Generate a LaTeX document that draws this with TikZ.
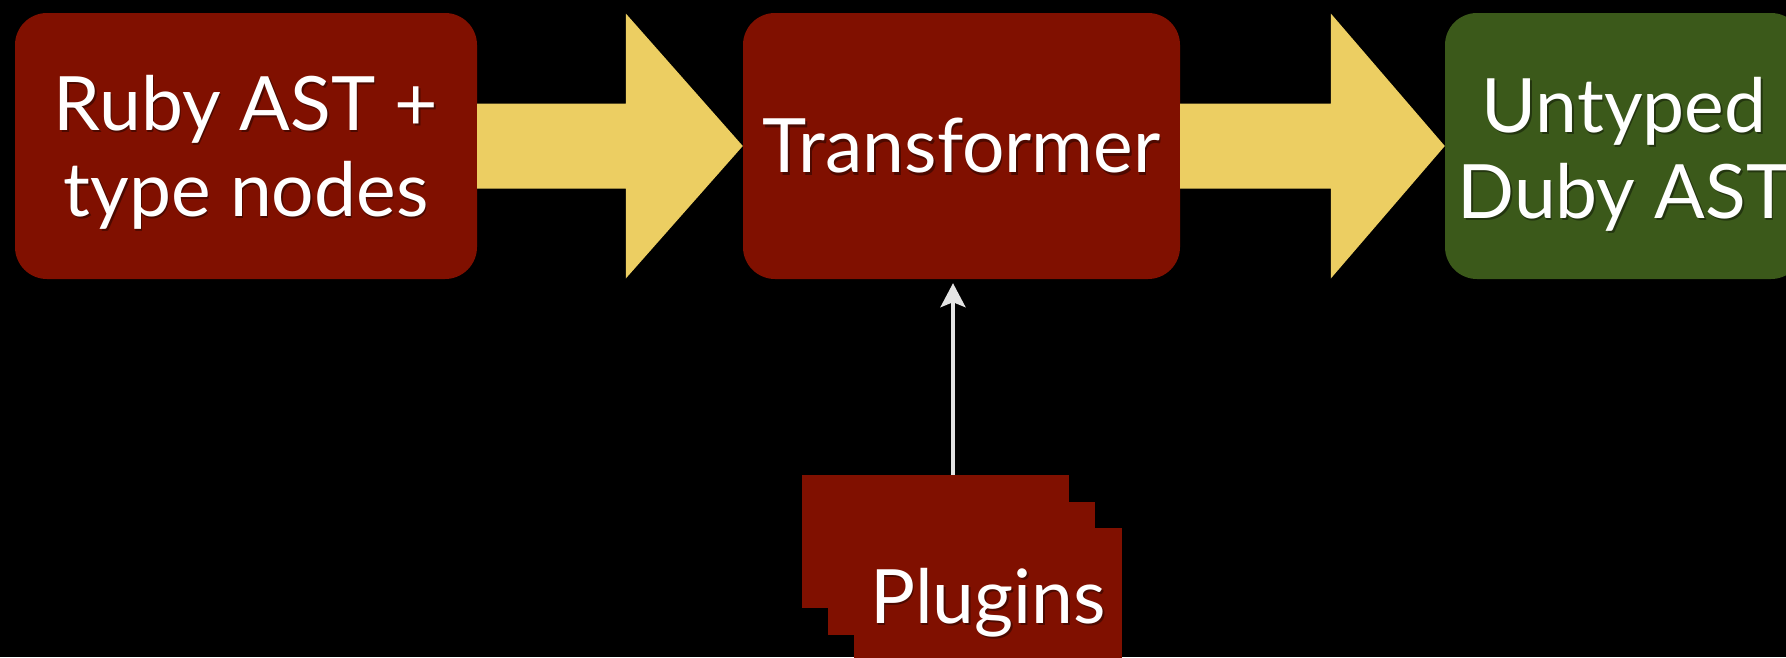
\documentclass[tikz,border=0pt]{standalone}
\usepackage{fontspec}
\setmainfont{Lato}
\usetikzlibrary{calc,arrows.meta}
\definecolor{boxred}{RGB}{128,16,0}
\definecolor{boxgreen}{RGB}{59,89,26}
\definecolor{arrowgold}{RGB}{236,206,98}
\definecolor{plugarrow}{RGB}{228,228,228}
\begin{document}
\begin{tikzpicture}[x=1pt,y=-1pt,
  bigfont/.style={font=\fontsize{75}{86}\selectfont},
  box/.style={rounded corners=32pt, inner sep=0pt, minimum height=266pt},
  redbox/.style={box, fill=boxred},
  greenbox/.style={box, fill=boxgreen},
  sheet/.style={fill=boxred, inner sep=0pt, minimum width=267pt, minimum height=133pt},
  txt/.style={bigfont, text=white, align=center, inner sep=0pt},
  txtshadow/.style={bigfont, text=black, opacity=0.4, align=center, inner sep=0pt},
  goldarrow/.style={fill=arrowgold},
  plug/.style={draw=plugarrow, line width=3.5pt, -{Stealth[length=24pt,width=25pt,inset=5pt]}, shorten >=4pt}
]
\fill[black] (0,0) rectangle (1786,657);
\useasboundingbox (0,0) rectangle (1786,657);

% boxes
\node[redbox, minimum width=462pt] (n1) at (246,146) {};
\node[redbox, minimum width=437pt] (n2) at (961.5,146) {};
\node[greenbox, minimum width=358pt] (n3) at (1624,146) {};

% texts
\node[txtshadow] (n1s) at ($(n1)+(1.5,8.5)$) {Ruby AST +\\type nodes};
\node[txt] (n1t) at ($(n1)+(0,6)$) {Ruby AST +\\type nodes};
\node[txtshadow] (n2s) at ($(n2)+(1.5,2.5)$) {Transformer};
\node[txt] (n2t) at (n2) {Transformer};
\node[txtshadow] (n3s) at ($(n3)+(1.5,10.5)$) {Untyped\\Duby AST};
\node[txt] (n3t) at ($(n3)+(0,8)$) {Untyped\\Duby AST};

% block arrows
\fill[goldarrow] ($(n1.east)+(0,-42.5)$) -- ($(n2.west)+(-117,-42.5)$) -- ($(n2.west)+(-117,-132.5)$)
  -- (n2.west) -- ($(n2.west)+(-117,132.5)$) -- ($(n2.west)+(-117,42.5)$) -- ($(n1.east)+(0,42.5)$) -- cycle;
\fill[goldarrow] ($(n2.east)+(0,-42.5)$) -- ($(n3.west)+(-114,-42.5)$) -- ($(n3.west)+(-114,-132.5)$)
  -- (n3.west) -- ($(n3.west)+(-114,132.5)$) -- ($(n3.west)+(-114,42.5)$) -- ($(n2.east)+(0,42.5)$) -- cycle;

% plugin sheets
\node[sheet] (pb) at (935,541.5) {};
\node[sheet] (pm) at (961.5,568) {};
\node[sheet, minimum width=268pt] (pf) at (988,594.5) {};
\node[txtshadow] (pfs) at ($(pf)+(1.5,10.5)$) {Plugins};
\node[txt] (pft) at ($(pf)+(0,8)$) {Plugins};

% plugin arrow
\coordinate (pa) at (953,475);
\draw[plug] (pb.north -| pa) -- (n2.south -| pa);
\end{tikzpicture}
\end{document}
